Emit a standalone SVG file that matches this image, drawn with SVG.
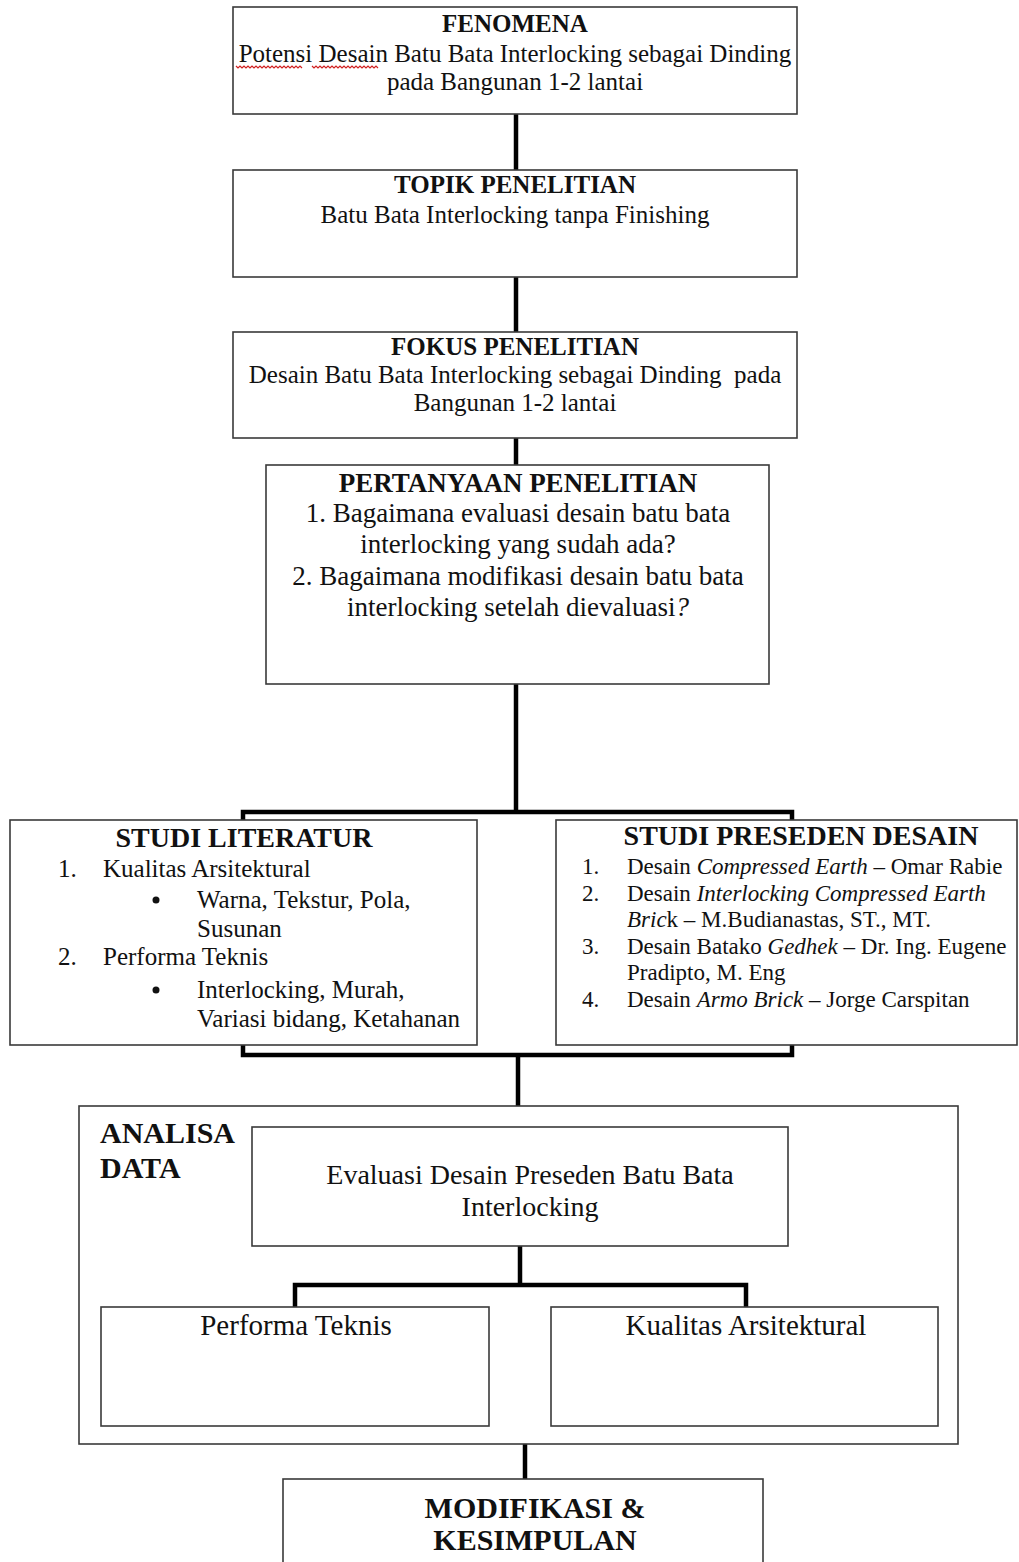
<svg xmlns="http://www.w3.org/2000/svg" width="1019" height="1562" viewBox="0 0 1019 1562">
<style>
.box{fill:#fff;stroke:#3a3a3a;stroke-width:1.6}
.frame{fill:none;stroke:#3a3a3a;stroke-width:1.6}
.con{fill:none;stroke:#000;stroke-width:4.5;stroke-linejoin:miter}
text{font-family:"Liberation Serif","Times New Roman",serif;fill:#111}
.t{font-weight:bold;text-anchor:middle}
.c{text-anchor:middle}
.it{font-style:italic}
.sq{fill:none;stroke:#d02020;stroke-width:1.2}
</style>
<rect width="1019" height="1562" fill="#fff"/>
<g id="connectors">
<line class="con" x1="516" y1="114" x2="516" y2="170"/>
<line class="con" x1="516" y1="277" x2="516" y2="332"/>
<line class="con" x1="516" y1="438" x2="516" y2="465"/>
<line class="con" x1="516" y1="684" x2="516" y2="812"/>
<path class="con" d="M243,820 V812 H792 V820"/>
<path class="con" d="M243,1045 V1055 H792 V1045"/>
<line class="con" x1="518" y1="1055" x2="518" y2="1106"/>
<line class="con" x1="520" y1="1246" x2="520" y2="1285"/>
<path class="con" d="M295,1307 V1285 H746 V1307"/>
<line class="con" x1="525" y1="1444" x2="525" y2="1479"/>
</g>
<g id="fenomena">
<rect class="box" x="233" y="7" width="564" height="107"/>
<text class="t" x="515" y="32" font-size="25">FENOMENA</text>
<text class="c" x="515" y="62" font-size="25">Potensi Desain Batu Bata Interlocking sebagai Dinding</text>
<text class="c" x="515" y="90" font-size="25">pada Bangunan 1-2 lantai</text>
<path class="sq" d="M236,66 l2,2 l2,-2 l2,2 l2,-2 l2,2 l2,-2 l2,2 l2,-2 l2,2 l2,-2 l2,2 l2,-2 l2,2 l2,-2 l2,2 l2,-2 l2,2 l2,-2 l2,2 l2,-2 l2,2 l2,-2 l2,2 l2,-2 l2,2 l2,-2 l2,2 l2,-2 l2,2 l2,-2 l2,2 l2,-2 l2,2"/>
<path class="sq" d="M312,66 l2,2 l2,-2 l2,2 l2,-2 l2,2 l2,-2 l2,2 l2,-2 l2,2 l2,-2 l2,2 l2,-2 l2,2 l2,-2 l2,2 l2,-2 l2,2 l2,-2 l2,2 l2,-2 l2,2 l2,-2 l2,2 l2,-2 l2,2 l2,-2 l2,2 l2,-2 l2,2 l2,-2 l2,2 l2,-2 l2,2"/>
</g>
<g id="topik">
<rect class="box" x="233" y="170" width="564" height="107"/>
<text class="t" x="515" y="193" font-size="25">TOPIK PENELITIAN</text>
<text class="c" x="515" y="223" font-size="25">Batu Bata Interlocking tanpa Finishing</text>
</g>
<g id="fokus">
<rect class="box" x="233" y="332" width="564" height="106"/>
<text class="t" x="515" y="355" font-size="25">FOKUS PENELITIAN</text>
<text class="c" x="515" y="383" font-size="25" xml:space="preserve">Desain Batu Bata Interlocking sebagai Dinding  pada</text>
<text class="c" x="515" y="411" font-size="25">Bangunan 1-2 lantai</text>
</g>
<g id="pertanyaan">
<rect class="box" x="266" y="465" width="503" height="219"/>
<text class="t" x="518" y="492" font-size="27">PERTANYAAN PENELITIAN</text>
<text class="c" x="518" y="522" font-size="27">1. Bagaimana evaluasi desain batu bata</text>
<text class="c" x="518" y="553" font-size="27">interlocking yang sudah ada?</text>
<text class="c" x="518" y="585" font-size="27">2. Bagaimana modifikasi desain batu bata</text>
<text class="c" x="518" y="616" font-size="27">interlocking setelah dievaluasi<tspan class="it">?</tspan></text>
</g>
<g id="studi-literatur">
<rect class="box" x="10" y="820" width="467" height="225"/>
<text class="t" x="244" y="847" font-size="28">STUDI LITERATUR</text>
<g font-size="25">
<text x="58" y="877">1.</text><text x="103" y="877">Kualitas Arsitektural</text>
<circle cx="156" cy="900" r="3.5" fill="#111"/><text x="197" y="908">Warna, Tekstur, Pola,</text>
<text x="197" y="937">Susunan</text>
<text x="58" y="965">2.</text><text x="103" y="965">Performa Teknis</text>
<circle cx="156" cy="990" r="3.5" fill="#111"/><text x="197" y="998">Interlocking, Murah,</text>
<text x="197" y="1027">Variasi bidang, Ketahanan</text>
</g>
</g>
<g id="studi-preseden">
<rect class="box" x="556" y="820" width="461" height="225"/>
<text class="t" x="801" y="845" font-size="28">STUDI PRESEDEN DESAIN</text>
<g font-size="23">
<text x="582" y="874">1.</text><text x="627" y="874">Desain <tspan class="it">Compressed Earth</tspan> – Omar Rabie</text>
<text x="582" y="901">2.</text><text x="627" y="901">Desain <tspan class="it">Interlocking Compressed Earth</tspan></text>
<text x="627" y="927"><tspan class="it">Bric</tspan>k – M.Budianastas, ST., MT.</text>
<text x="582" y="954">3.</text><text x="627" y="954">Desain Batako <tspan class="it">Gedhek</tspan> – Dr. Ing. Eugene</text>
<text x="627" y="980">Pradipto, M. Eng</text>
<text x="582" y="1007">4.</text><text x="627" y="1007">Desain <tspan class="it">Armo Brick</tspan> – Jorge Carspitan</text>
</g>
</g>
<g id="analisa-data">
<rect class="frame" x="79" y="1106" width="879" height="338"/>
<text x="100" y="1143" font-size="30" font-weight="bold">ANALISA</text>
<text x="100" y="1178" font-size="30" font-weight="bold">DATA</text>
</g>
<g id="evaluasi">
<rect class="box" x="252" y="1127" width="536" height="119"/>
<text class="c" x="530" y="1184" font-size="28">Evaluasi Desain Preseden Batu Bata</text>
<text class="c" x="530" y="1216" font-size="28">Interlocking</text>
</g>
<g id="performa-teknis">
<rect class="box" x="101" y="1307" width="388" height="119"/>
<text class="c" x="296" y="1335" font-size="29">Performa Teknis</text>
</g>
<g id="kualitas-arsitektural">
<rect class="box" x="551" y="1307" width="387" height="119"/>
<text class="c" x="746" y="1335" font-size="29">Kualitas Arsitektural</text>
</g>
<g id="modifikasi">
<rect class="box" x="283" y="1479" width="480" height="100"/>
<text class="t" x="535" y="1518" font-size="30">MODIFIKASI &amp;</text>
<text class="t" x="535" y="1550" font-size="30">KESIMPULAN</text>
</g>
</svg>
